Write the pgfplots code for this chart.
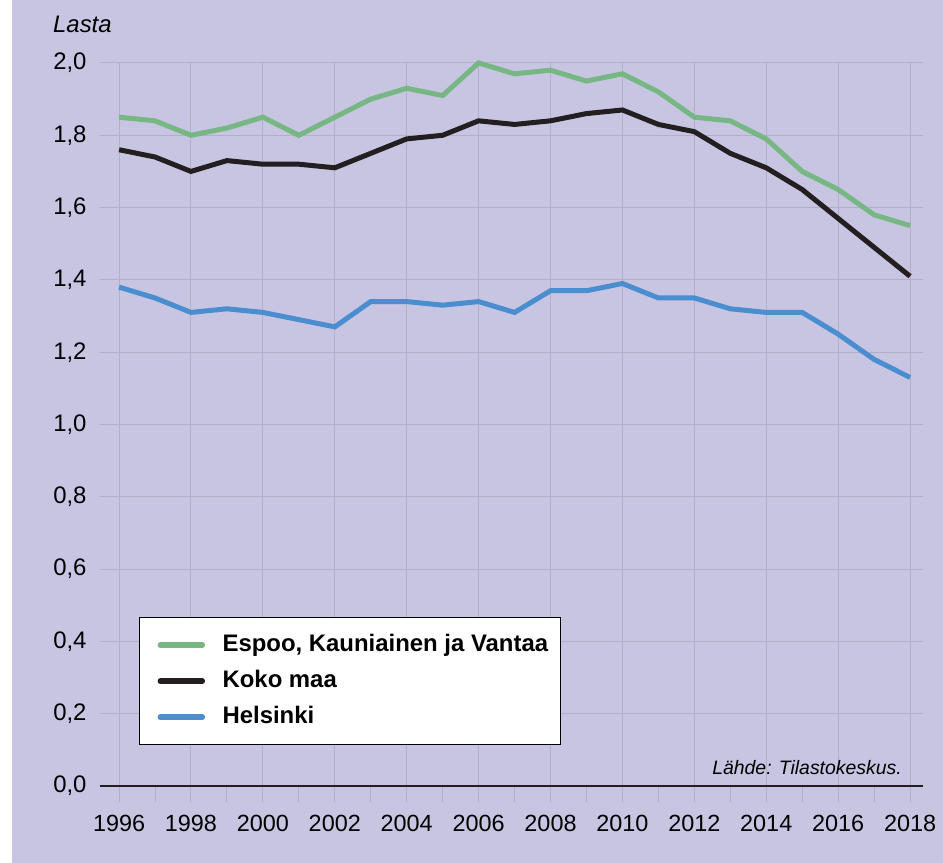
\documentclass[border=0pt]{standalone}
\usepackage{pgfplots}
\pgfplotsset{compat=1.18}
\usepackage{fontspec}
\setmainfont{Liberation Sans}
\definecolor{bg}{HTML}{C8C5E3}
\definecolor{gridc}{HTML}{B3B0C6}
\definecolor{cgreen}{HTML}{76B784}
\definecolor{cblack}{HTML}{231F20}
\definecolor{cblue}{HTML}{4A8ED0}
\begin{document}
\begin{tikzpicture}[x=1bp,y=1bp]
\useasboundingbox (0,0) rectangle (943,863);
\fill[white] (0,0) rectangle (943,863);
\fill[bg] (12,0) rectangle (943,863);
\begin{axis}[
  at={(100bp,77bp)}, anchor=south west,
  scale only axis, width=823bp, height=723bp,
  xmin=1995.47, xmax=2018.36, ymin=0, ymax=2.0,
  clip=false,
  axis line style={draw=none},
  xtick={1996,1998,...,2018},
  minor xtick={1997,1999,...,2017},
  ytick={0,0.2,...,2.01},
  xtick pos=bottom, ytick pos=left,
  tick align=outside,
  major tick length=16bp, minor tick length=16bp,
  x tick style={draw=gridc, line width=1bp},
  y tick style={draw=none},
  xmajorgrids, ymajorgrids,
  major grid style={draw=gridc, line width=1bp},
  /pgf/number format/assume math mode=true,
  xticklabel style={/pgf/number format/1000 sep={}, font=\fontsize{23.5}{27}\selectfont, yshift=-10bp},
  yticklabel style={/pgf/number format/.cd, use comma, fixed, fixed zerofill, precision=1, /tikz/.cd, font=\fontsize{24}{27}\selectfont, xshift=6bp},
  legend style={at={(axis cs:1996.55,0.113)}, anchor=south west, draw=black, line width=1bp, fill=white,
    font=\fontsize{24}{27}\selectfont\bfseries, inner xsep=12bp, inner ysep=9.5bp, row sep=0bp,
    nodes={text height=17bp, text depth=5bp, inner ysep=7bp, inner xsep=0bp},
    /tikz/every odd column/.append style={column sep=17.5bp}},
  legend cell align=left,
  legend image code/.code={\path (0bp,0bp); \draw[#1,line width=5.5bp,line cap=round] (6.5bp,0bp) -- (48.5bp,0bp);},
]
\addplot[cgreen, line width=5bp] coordinates {
(1996,1.85) (1997,1.84) (1998,1.80) (1999,1.82) (2000,1.85) (2001,1.80) (2002,1.85) (2003,1.90) (2004,1.93) (2005,1.91) (2006,2.00) (2007,1.97) (2008,1.98) (2009,1.95) (2010,1.97) (2011,1.92) (2012,1.85) (2013,1.84) (2014,1.79) (2015,1.70) (2016,1.65) (2017,1.58) (2018,1.55)};
\addlegendentry{Espoo, Kauniainen ja Vantaa}
\addplot[cblack, line width=5bp] coordinates {
(1996,1.76) (1997,1.74) (1998,1.70) (1999,1.73) (2000,1.72) (2001,1.72) (2002,1.71) (2003,1.75) (2004,1.79) (2005,1.80) (2006,1.84) (2007,1.83) (2008,1.84) (2009,1.86) (2010,1.87) (2011,1.83) (2012,1.81) (2013,1.75) (2014,1.71) (2015,1.65) (2016,1.57) (2017,1.49) (2018,1.41)};
\addlegendentry{Koko maa}
\addplot[cblue, line width=5bp] coordinates {
(1996,1.38) (1997,1.35) (1998,1.31) (1999,1.32) (2000,1.31) (2001,1.29) (2002,1.27) (2003,1.34) (2004,1.34) (2005,1.33) (2006,1.34) (2007,1.31) (2008,1.37) (2009,1.37) (2010,1.39) (2011,1.35) (2012,1.35) (2013,1.32) (2014,1.31) (2015,1.31) (2016,1.25) (2017,1.18) (2018,1.13)};
\addlegendentry{Helsinki}
\draw[cblack, line width=2bp] (rel axis cs:0,0) -- (rel axis cs:1,0);
\end{axis}
\node[anchor=base west, inner sep=0pt, font=\fontsize{24}{28}\selectfont\itshape] at (53,830) {Lasta};
\node[anchor=base east, inner sep=0pt, font=\fontsize{19.5}{23}\selectfont\itshape] at (902,88) {Lähde: Tilastokeskus.};
\end{tikzpicture}
\end{document}
